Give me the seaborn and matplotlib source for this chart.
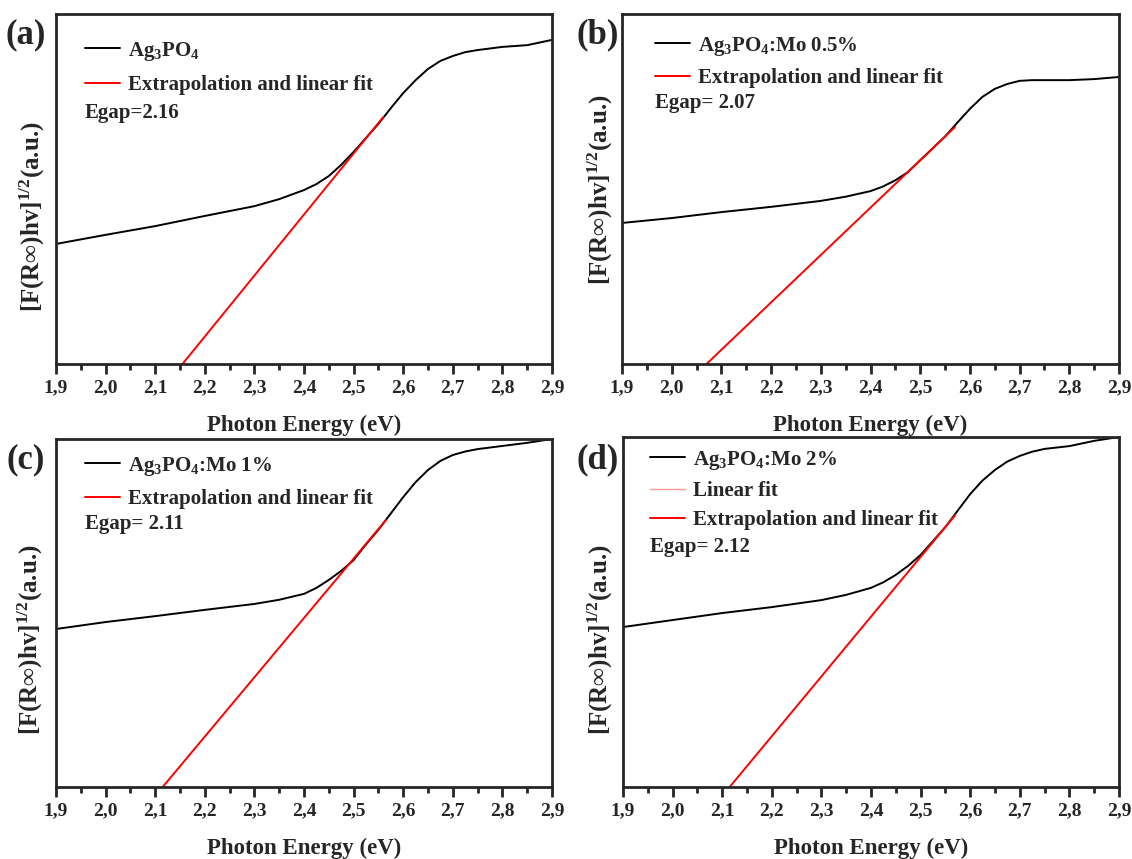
import numpy as np
import pandas as pd
import seaborn as sns
import matplotlib.pyplot as plt
from matplotlib.ticker import MultipleLocator

# photon energy grid (eV) shared by the four spectra
energy = [1.9, 2.0, 2.1, 2.2, 2.3, 2.35, 2.4, 2.425, 2.45, 2.475, 2.5, 2.525, 2.55, 2.575,
          2.6, 2.625, 2.65, 2.675, 2.7, 2.725, 2.75, 2.8, 2.85, 2.9]

# [F(R)hv]^1/2, arbitrary units
signal_a = [0.343, 0.369, 0.394, 0.423, 0.451, 0.471, 0.497, 0.514, 0.537, 0.569, 0.606, 0.646,
            0.686, 0.731, 0.774, 0.811, 0.843, 0.866, 0.880, 0.891, 0.897, 0.906, 0.911, 0.926]
signal_b = [0.403, 0.417, 0.434, 0.449, 0.466, 0.478, 0.494, 0.507, 0.525, 0.548, 0.582, 0.616,
            0.650, 0.690, 0.729, 0.763, 0.786, 0.800, 0.809, 0.811, 0.811, 0.811, 0.814, 0.820]
signal_c = [0.454, 0.474, 0.491, 0.509, 0.526, 0.538, 0.555, 0.572, 0.595, 0.621, 0.652, 0.697,
            0.739, 0.786, 0.833, 0.876, 0.911, 0.937, 0.954, 0.964, 0.971, 0.980, 0.989, 1.000]
signal_d = [0.457, 0.477, 0.497, 0.514, 0.534, 0.549, 0.569, 0.585, 0.606, 0.632, 0.663, 0.703,
            0.743, 0.790, 0.837, 0.876, 0.906, 0.930, 0.946, 0.958, 0.966, 0.974, 0.989, 1.000]

# extrapolated linear fits (start at the x intercept)
fit_x_a, fit_y_a = [2.155, 2.56], [0.0, 0.706]
fit_x_b, fit_y_b = [2.07, 2.57], [0.0, 0.677]
fit_x_c, fit_y_c = [2.115, 2.565], [0.0, 0.767]
fit_x_d, fit_y_d = [2.115, 2.57], [0.0, 0.777]
lin_x_d, lin_y_d = [2.48, 2.57], [0.623, 0.777]

sample_labels = ["Ag$_3$PO$_4$", "Ag$_3$PO$_4$:Mo 0.5%", "Ag$_3$PO$_4$:Mo 1%", "Ag$_3$PO$_4$:Mo 2%"]
egap_labels = ["Egap=2.16", "Egap= 2.07", "Egap= 2.11", "Egap= 2.12"]
panel_tags = ["(a)", "(b)", "(c)", "(d)"]
tick_values = [1.9, 2.0, 2.1, 2.2, 2.3, 2.4, 2.5, 2.6, 2.7, 2.8, 2.9]
tick_labels = ["1,9", "2,0", "2,1", "2,2", "2,3", "2,4", "2,5", "2,6", "2,7", "2,8", "2,9"]

sns.set_style("ticks")
plt.rcParams["font.family"] = ["Liberation Serif", "DejaVu Serif"]
plt.rcParams["font.weight"] = "bold"
plt.rcParams["axes.labelweight"] = "bold"
plt.rcParams["mathtext.fontset"] = "custom"
plt.rcParams["mathtext.rm"] = "Liberation Serif:bold"
plt.rcParams["mathtext.it"] = "Liberation Serif:bold"
plt.rcParams["mathtext.bf"] = "Liberation Serif:bold"

fig = plt.figure(figsize=(11.32, 8.59), dpi=100)
W, H = 1132.0, 859.0

# axes boxes in pixels: left, top, right, bottom
boxes = [(56, 14, 552, 364), (622, 14, 1119, 364), (56, 439, 552, 787), (623, 437, 1119, 787)]
signals = [signal_a, signal_b, signal_c, signal_d]
fits = [(fit_x_a, fit_y_a), (fit_x_b, fit_y_b), (fit_x_c, fit_y_c), (fit_x_d, fit_y_d)]
legend_anchor = [(0.058, 0.927), (0.066, 0.941), (0.058, 0.955), (0.054, 0.967)]
legend_space = [0.62, 0.5, 0.55, 0.45]
egap_pos = [(0.058, 0.718), (0.066, 0.745), (0.058, 0.757), (0.054, 0.685)]
ylabel_pos = [(-0.018, 0.42), (-0.014, 0.497), (-0.022, 0.422), (-0.016, 0.42)]
tag_pos = [(26, 35), (598, 35), (26, 460), (598, 460)]

for i in range(4):
    l, t, r, b = boxes[i]
    ax = fig.add_axes([l / W, 1 - b / H, (r - l) / W, (b - t) / H])
    df = pd.DataFrame({"E": energy, "S": signals[i]})
    sns.lineplot(data=df, x="E", y="S", ax=ax, color="black", lw=1.4, label=sample_labels[i])
    if i == 3:
        lin = pd.DataFrame({"E": lin_x_d, "S": lin_y_d})
        sns.lineplot(data=lin, x="E", y="S", ax=ax, color="#ff9a9a", lw=1.0, label="Linear fit")
    fx, fy = fits[i]
    fit_df = pd.DataFrame({"E": fx, "S": fy})
    sns.lineplot(data=fit_df, x="E", y="S", ax=ax, color="red", lw=1.4,
                 label="Extrapolation and linear fit")

    ax.set_xlim(1.9, 2.9)
    ax.set_ylim(0, 1)
    ax.set_xticks(tick_values)
    ax.set_xticklabels(tick_labels)
    ax.xaxis.set_minor_locator(MultipleLocator(0.05))
    ax.set_yticks([])
    ax.tick_params(axis="x", which="major", direction="out", length=7, width=2,
                   labelsize=14, pad=4)
    ax.tick_params(axis="x", which="minor", direction="out", length=4, width=2)
    for s in ax.spines.values():
        s.set_linewidth(2)
        s.set_visible(True)
    ax.set_xlabel("Photon Energy (eV)", fontsize=16.5, fontweight="bold", labelpad=13)
    ax.set_ylabel("[F(R\u221e)hv]$^{1/2}$(a.u.)", fontsize=18, fontweight="bold")
    ax.yaxis.set_label_coords(*ylabel_pos[i])

    ax.legend(loc="upper left", bbox_to_anchor=legend_anchor[i], frameon=False,
              fontsize=15, handlelength=1.68, handletextpad=0.38, labelspacing=legend_space[i],
              borderpad=0, borderaxespad=0)
    ax.text(egap_pos[i][0], egap_pos[i][1], egap_labels[i], transform=ax.transAxes,
            fontsize=15, fontweight="bold", va="center", ha="left")
    fig.text(tag_pos[i][0] / W, 1 - tag_pos[i][1] / H, panel_tags[i], fontsize=25,
             fontweight="bold", ha="center", va="center")

fig.savefig("out.png", dpi=100)
